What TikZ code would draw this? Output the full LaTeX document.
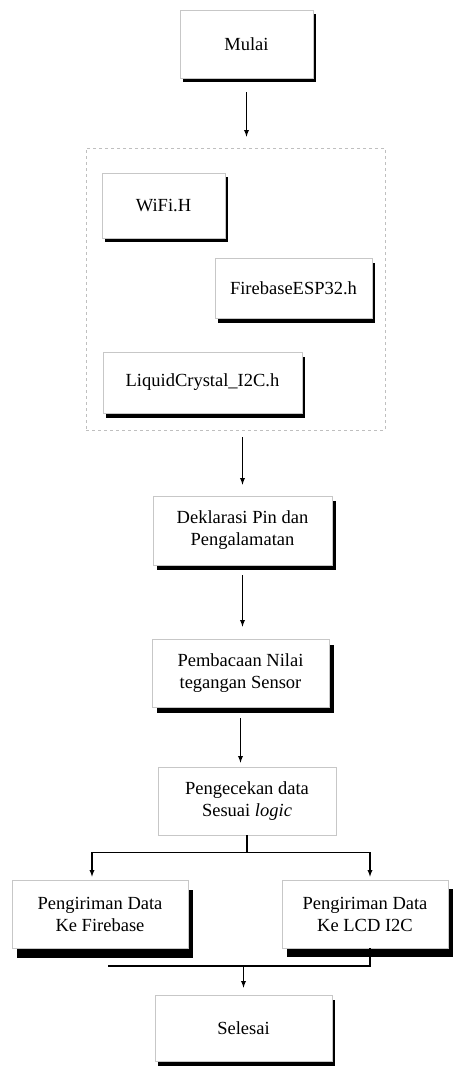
\documentclass[tikz,border=0pt]{standalone}
\usepackage{fontspec}
\setmainfont{Liberation Serif}
\usetikzlibrary{shadows}

\begin{document}
\begin{tikzpicture}[x=1pt,y=-1pt,
    kotak/.style={draw=black!22,line width=0.6pt,fill=white,align=center,
        font=\fontsize{18.5}{22}\selectfont,inner sep=0pt},
    bayang/.style 2 args={drop shadow={shadow xshift=#1pt,shadow yshift=-#2pt,opacity=1,fill=black}},
    wadah/.style={draw=black!25,dashed,line width=0.6pt},
    panah/.style={line width=1.3pt,-latex}]
    \useasboundingbox (0,0) rectangle (455,1066);

    \node[kotak,bayang={3}{4},minimum width=133pt,minimum height=68pt] (mulai) at (246.5,44) {Mulai};

    \node[wadah,minimum width=299pt,minimum height=282pt] (pustaka) at (235.5,289) {};
    \node[kotak,bayang={3}{4},minimum width=123pt,minimum height=65pt] (wifi) at (163.5,205.5) {WiFi.H};
    \node[kotak,bayang={3}{5},minimum width=157pt,minimum height=60pt] (fbesp) at (293.5,288) {FirebaseESP32.h};
    \node[kotak,bayang={3}{5},minimum width=199pt,minimum height=61pt] (lcdlib) at (202.5,382.5) {LiquidCrystal\_I2C.h};

    \node[kotak,bayang={4}{5},minimum width=179pt,minimum height=69pt] (deklarasi) at (242.5,530.5) {Deklarasi Pin dan\\Pengalamatan};
    \node[kotak,bayang={5}{6},minimum width=177pt,minimum height=68pt] (baca) at (240.5,673) {Pembacaan Nilai\\tegangan Sensor};
    \node[kotak,minimum width=178pt,minimum height=68pt] (cek) at (247,801) {Pengecekan data\\Sesuai \textit{logic}};
    \node[kotak,bayang={5}{10},minimum width=176pt,minimum height=68pt] (kirimfb) at (100,914) {Pengiriman Data\\Ke Firebase};
    \node[kotak,bayang={5}{9},minimum width=166pt,minimum height=68pt] (kirimlcd) at (365,914) {Pengiriman Data\\Ke LCD I2C};
    \node[kotak,bayang={3}{5},minimum width=177pt,minimum height=66pt] (selesai) at (243.5,1028) {Selesai};

    \draw[panah,shorten <=14pt,shorten >=11pt] (mulai.south) -- (mulai.south |- pustaka.north);
    \draw[panah,shorten <=7pt,shorten >=11pt] (deklarasi.north |- pustaka.south) -- (deklarasi.north);
    \draw[panah,shorten <=10pt,shorten >=12pt] (deklarasi.south) -- (deklarasi.south |- baca.north);
    \draw[panah,shorten <=11pt,shorten >=4pt] (baca.south) -- (baca.south |- cek.north);
    \draw[panah,shorten >=3pt] (cek.south) -- ++(0,17) -| ([xshift=-8pt]kirimfb.north);
    \draw[panah,shorten >=3pt] (cek.south) -- ++(0,17) -| ([xshift=5pt]kirimlcd.north);
    \coordinate (gabung) at (108,966);
    \draw[line width=1.3pt] ([xshift=5pt]kirimlcd.south) |- (gabung);
    \draw[panah,shorten >=7pt] (selesai.north |- gabung) -- (selesai.north);
\end{tikzpicture}
\end{document}
